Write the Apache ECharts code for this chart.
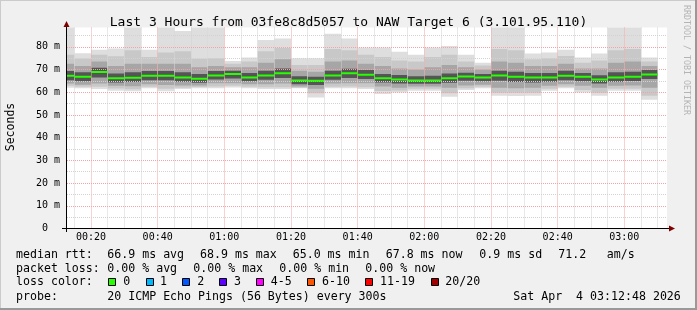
<!DOCTYPE html>
<html><head><meta charset="utf-8">
<script src="https://cdn.jsdelivr.net/npm/echarts@6/dist/echarts.min.js"></script>
<style>html,body{margin:0;padding:0;background:#f0f0f0}#c{width:697px;height:310px}</style>
</head><body><div id="c"></div>
<script>
// ---------- DATA ----------
const chartTitle = 'Last 3 Hours from 03fe8c8d5057 to NAW Target 6 (3.101.95.110)';
const yAxisTitle = 'Seconds';
const xStartMin = 12.8;   // 00:12:48
const xEndMin = 192.8;    // 03:12:48
const yMax = 88.5;        // ms
const xTickMinutes = [20, 40, 60, 80, 100, 120, 140, 160, 180];
const yTickValues = [0, 10, 20, 30, 40, 50, 60, 70, 80];
// end of each 5 minute step (minutes after 00:00)
const binEnd = [15,20,25,30,35,40,45,50,55,60,65,70,75,80,85,90,95,100,105,110,115,120,125,130,135,140,145,150,155,160,165,170,175,180,185,190];
// smoke quantiles (ms)
const pingMin = [62.0,61.8,61.4,60.7,60.4,61.8,60.4,61.4,61.8,61.8,62.1,61.8,61.4,61.4,61.8,57.7,61.8,61.8,61.4,59.2,59.9,60.7,60.7,58.0,61.0,61.8,58.5,58.3,58.5,60.7,61.8,59.9,58.5,60.7,60.7,56.7];
const pingL1  = [62.8,62.4,62.4,61.6,61.3,62.4,61.5,62.0,62.3,62.5,62.8,62.4,62.2,62.2,62.0,59.5,62.4,62.5,62.2,60.5,60.8,61.5,61.5,59.5,61.8,62.4,59.8,59.8,59.8,61.5,62.4,61.0,59.8,61.5,61.5,58.5];
const pingL2  = [63.8,63.3,63.8,62.8,62.6,63.5,63.2,63.0,63.0,64.0,64.0,63.5,63.5,63.8,62.5,61.5,63.8,64.0,64.0,62.5,62.0,62.5,62.5,62.0,63.0,63.3,62.0,61.8,62.0,62.8,63.5,62.8,62.0,62.8,63.0,62.0];
const pingL3  = [65.3,64.8,66.5,64.3,64.5,65.3,65.3,64.6,64.2,65.6,66.0,64.8,65.5,66.3,63.5,63.2,65.5,66.3,65.8,64.3,63.8,63.7,63.7,64.2,65.0,64.8,65.0,64.5,64.3,64.6,65.3,64.8,63.8,64.6,64.9,65.8];
const medianRtt = [67.3,66.8,68.9,66.1,66.4,67.3,67.3,66.5,65.9,67.4,68.0,66.5,67.4,68.4,65.2,65.0,67.4,68.4,67.7,66.1,65.6,65.2,65.2,66.1,66.9,66.5,67.4,66.8,66.5,66.5,67.3,66.8,65.6,66.5,66.8,67.8];
const pingU3  = [69.3,68.8,70.8,68.3,68.8,69.3,69.3,68.8,68.0,69.3,69.5,68.5,69.5,70.5,67.0,66.8,69.5,70.3,69.8,68.0,67.6,67.0,67.3,68.3,68.6,68.0,69.5,69.0,68.5,68.5,69.5,68.5,67.5,68.8,69.0,69.8];
const pingU2  = [72.5,71.5,73.5,71.5,72.5,72.5,72.5,72.5,71.0,71.5,71.0,71.0,73.0,74.5,69.5,69.0,73.5,74.0,72.5,71.5,70.5,70.0,71.0,72.0,71.0,70.0,73.5,73.0,71.5,71.5,72.5,70.5,70.5,73.0,73.5,71.5];
const pingU1  = [76.5,74.8,76.5,75.8,78.5,75.5,77.5,78.0,74.7,75.0,72.5,73.5,78.0,79.5,72.0,72.0,79.0,78.5,76.5,75.5,74.0,73.5,75.5,76.5,73.5,71.8,79.0,78.5,74.5,75.0,76.0,73.0,74.0,78.5,79.0,73.5];
const pingMax = [95,77.2,78.7,79.3,95,78.7,95,87.0,95,95,73.8,75.3,83.0,83.7,75.0,75.0,85.8,83.7,79.7,79.7,77.8,76.5,79.7,80.4,76.5,73.0,95,95,77.1,77.5,78.7,75.3,77.1,95,95,75.3];

const statLine1 = [['median rtt:',16],['66.9 ms avg',107.3],['68.9 ms max',200],['65.0 ms min',292.7],['67.8 ms now',385.7],['0.9 ms sd',479.3],['71.2',558.3],['am/s',606.7]];
const statLine2 = [['packet loss:',16],['0.00 % avg',107.3],['0.00 % max',193.3],['0.00 % min',279.3],['0.00 % now',365.3]];
const lossLabels = ['0','1','2','3','4-5','6-10','11-19','20/20'];
const lossColors = ['#26ff00','#00b8ff','#0059ff','#5e00ff','#ff00ff','#ff5500','#ff0000','#a10000'];
const probeText = '20 ICMP Echo Pings (56 Bytes) every 300s';
const dateText = 'Sat Apr  4 03:12:48 2026';

// ---------- BUILD ----------
const MONO = '"DejaVu Sans Mono", monospace';
const smokeData = binEnd.map((e, i) => [Math.max(e - 5, xStartMin), e,
  pingMin[i], pingL1[i], pingL2[i], pingL3[i], medianRtt[i], pingU3[i], pingU2[i], pingU1[i], pingMax[i]]);
const medData = binEnd.map((e, i) => [Math.max(e - 5, xStartMin), e, medianRtt[i]]);
const smokeColors = ['#dedede', '#c8c8c8', '#a6a6a6', '#555555'];

const gridLines = [];
for (let m = 15; m <= 190; m += 5) {
  const major = m % 20 === 0;
  gridLines.push({ xAxis: m, lineStyle: { color: major ? '#f4a4a4' : '#d2d2d2', type: [1, 1], width: 1 } });
}
for (let v = 5; v <= 85; v += 5) {
  const major = v % 10 === 0;
  gridLines.push({ yAxis: v, lineStyle: { color: major ? '#f4a4a4' : '#d2d2d2', type: [1, 1], width: 1 } });
}

function pad(n) { return (n < 10 ? '0' : '') + n; }

const graphics = [];
// frame
graphics.push({ type: 'rect', shape: { x: 0, y: 0, width: 697, height: 1 }, style: { fill: '#cbcbcb' }, silent: true });
graphics.push({ type: 'rect', shape: { x: 0, y: 0, width: 1, height: 310 }, style: { fill: '#cbcbcb' }, silent: true });
graphics.push({ type: 'rect', shape: { x: 695, y: 0, width: 2, height: 310 }, style: { fill: '#999999' }, silent: true });
graphics.push({ type: 'rect', shape: { x: 0, y: 308, width: 697, height: 2 }, style: { fill: '#999999' }, silent: true });
// axes lines & arrows
graphics.push({ type: 'line', z: 20, shape: { x1: 62, y1: 228.5, x2: 670, y2: 228.5 }, style: { stroke: '#000', lineWidth: 1 }, silent: true });
graphics.push({ type: 'line', z: 20, shape: { x1: 66.5, y1: 232, x2: 66.5, y2: 25 }, style: { stroke: '#000', lineWidth: 1 }, silent: true });
graphics.push({ type: 'polygon', z: 20, shape: { points: [[669, 225.5], [675, 228.5], [669, 231.5]] }, style: { fill: '#7f0000' }, silent: true });
graphics.push({ type: 'polygon', z: 20, shape: { points: [[63.5, 27], [66.5, 21], [69.5, 27]] }, style: { fill: '#7f0000' }, silent: true });
// axis title
graphics.push({ type: 'text', x: 11, y: 127, rotation: Math.PI / 2, style: { text: yAxisTitle, font: '11.5px ' + MONO, fill: '#000', align: 'center', verticalAlign: 'middle' }, silent: true });
// watermark
graphics.push({ type: 'text', x: 686, y: 5, rotation: -Math.PI / 2, style: { text: 'RRDTOOL / TOBI OETIKER', font: '8.3px ' + MONO, fill: '#b4b4b4', align: 'left', verticalAlign: 'middle' }, silent: true });
// legend lines
const LF = '11.6px ' + MONO;
function addText(t, x, y, align) {
  graphics.push({ type: 'text', x: x, y: y, style: { text: t, font: LF, fill: '#000', align: align || 'left', verticalAlign: 'middle' }, silent: true });
}
statLine1.forEach(p => addText(p[0], p[1], 254.5));
statLine2.forEach(p => addText(p[0], p[1], 268.5));
addText('loss color:', 16, 282);
const boxX = [108.3, 145.7, 182.3, 219.3, 256, 306.7, 365.3, 430.7];
const labX = [123.3, 160, 197.3, 234, 270.7, 322, 380, 445.3];
lossLabels.forEach((l, i) => {
  graphics.push({ type: 'rect', shape: { x: Math.round(boxX[i]) + 0.5, y: 278.5, width: 7, height: 7 }, style: { fill: lossColors[i], stroke: '#000', lineWidth: 1 }, silent: true });
  addText(l, labX[i], 282);
});
addText('probe:', 16, 296.5);
addText(probeText, 107.3, 296.5);
addText(dateText, 513.3, 296.5);

const chart = echarts.init(document.getElementById('c'), null, { renderer: 'canvas' });
chart.setOption({
  animation: false,
  backgroundColor: '#f0f0f0',
  title: { text: chartTitle, left: 'center', top: 11, textStyle: { fontFamily: MONO, fontSize: 13, fontWeight: 'normal', color: '#000' } },
  grid: { left: 67, right: 30, top: 27.5, bottom: 81.5, show: true, backgroundColor: '#ffffff', borderWidth: 0 },
  xAxis: {
    type: 'value', min: xStartMin, max: xEndMin,
    axisLine: { show: false }, axisTick: { show: false, customValues: xTickMinutes }, splitLine: { show: false },
    axisLabel: { customValues: xTickMinutes, margin: 4, fontFamily: MONO, fontSize: 10, color: '#000',
      formatter: v => pad(Math.floor(v / 60)) + ':' + pad(Math.round(v % 60)) }
  },
  yAxis: {
    type: 'value', min: 0, max: yMax,
    axisLine: { show: false }, axisTick: { show: false, customValues: yTickValues }, splitLine: { show: false },
    axisLabel: { customValues: yTickValues, margin: 7, fontFamily: MONO, fontSize: 10, color: '#000',
      formatter: v => v === 0 ? '0  ' : v + ' m' }
  },
  series: [
    {
      type: 'custom', name: 'smoke', z: 2, clip: true, data: smokeData,
      renderItem: function (params, api) {
        const x0 = api.value(0), x1 = api.value(1);
        const children = [];
        for (let k = 0; k < 4; k++) {
          const lo = api.value(2 + k), hi = api.value(10 - k);
          const p0 = api.coord([x0, hi]), p1 = api.coord([x1, lo]);
          children.push({ type: 'rect', shape: { x: p0[0], y: p0[1], width: p1[0] - p0[0], height: p1[1] - p0[1] }, style: { fill: smokeColors[k] } });
        }
        return { type: 'group', children: children };
      },
      markLine: { silent: true, symbol: ['none', 'none'], label: { show: false }, animation: false, data: gridLines }
    },
    {
      type: 'custom', name: 'median', z: 10, clip: true, data: medData,
      renderItem: function (params, api) {
        const p0 = api.coord([api.value(0), api.value(2)]), p1 = api.coord([api.value(1), api.value(2)]);
        return { type: 'rect', shape: { x: p0[0], y: p0[1] - 1, width: p1[0] - p0[0], height: 2 }, style: { fill: '#26ff00' } };
      }
    }
  ],
  graphic: { elements: graphics }
});
</script></body></html>
